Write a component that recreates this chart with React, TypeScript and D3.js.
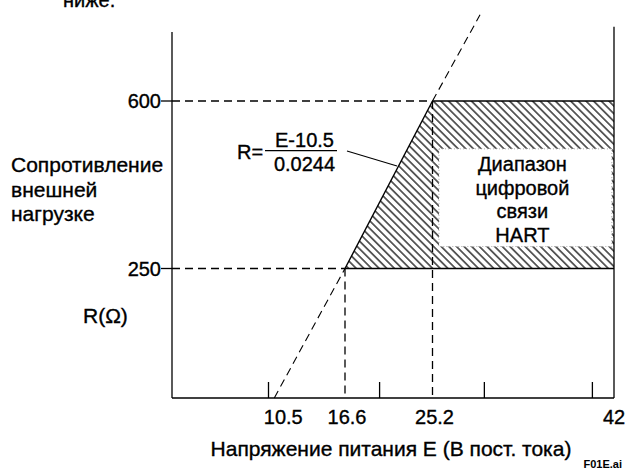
import React, { useRef, useEffect } from "react";
import * as d3 from "d3";

// schematic axis: supply voltage E (V DC) vs load resistance R (ohm)
const eBreaks = [0, 10, 16.6, 25.2, 42];
const rBreaks = [0, 250, 600];
const xTickValues = [10, 20, 30, 40];
const xLabelValues = [10.5, 16.6, 25.2, 42];
const xLabelTexts = ["10.5", "16.6", "25.2", "42"];
const rLabelValues = [250, 600];
const loadLineE = [10.5, 16.6, 25.2, 29.6];
const loadLineR = [0, 250, 600, 780];
const hartRegionE = [16.6, 25.2, 42, 42];
const hartRegionR = [250, 600, 600, 250];
const hartBoxE = [25.8, 41.8];
const hartBoxR = [296, 500];
const hartText = ["Диапазон", "цифровой", "связи", "HART"];
const yTitle = ["Сопротивление", "внешней", "нагрузке"];

const App = () => {
  const svgRef = useRef(null);
  const W = 627;
  const H = 471;

  useEffect(() => {
    const svg = d3.select(svgRef.current);
    svg.selectAll("*").remove();
    const font = "'Liberation Sans', Arial, sans-serif";

    const x = d3.scaleLinear().domain(eBreaks).range([172, 268.5, 345, 432.5, 614]);
    const y = d3.scaleLinear().domain(rBreaks).range([398, 268.5, 101]);

    // hatch pattern
    const pat = svg
      .append("defs")
      .append("pattern")
      .attr("id", "hatch")
      .attr("patternUnits", "userSpaceOnUse")
      .attr("width", 5.4)
      .attr("height", 10)
      .attr("patternTransform", "rotate(-45)");
    pat
      .append("line")
      .attr("x1", 2.7)
      .attr("y1", 0)
      .attr("x2", 2.7)
      .attr("y2", 10)
      .attr("stroke", "#000")
      .attr("stroke-width", 1.2);

    const region = hartRegionE.map((e, i) => [x(e), y(hartRegionR[i])]);
    svg
      .append("path")
      .attr("d", d3.line()(region) + "Z")
      .attr("fill", "url(#hatch)")
      .attr("stroke", "none");

    svg
      .append("rect")
      .attr("x", x(hartBoxE[0]))
      .attr("y", y(hartBoxR[1]))
      .attr("width", x(hartBoxE[1]) - x(hartBoxE[0]))
      .attr("height", y(hartBoxR[0]) - y(hartBoxR[1]))
      .attr("fill", "#fff")
      .attr("stroke", "#999")
      .attr("stroke-width", 0.8)
      .attr("stroke-dasharray", "1 2");

    const seg = (x1, y1, x2, y2, dashed = false, w = 1.3) => {
      const l = svg
        .append("line")
        .attr("x1", x1)
        .attr("y1", y1)
        .attr("x2", x2)
        .attr("y2", y2)
        .attr("stroke", "#000")
        .attr("stroke-width", w);
      if (dashed) l.attr("stroke-dasharray", "8 5");
      return l;
    };

    // dashed guides at 250 / 600
    rLabelValues.forEach((r) => {
      const e = loadLineE[loadLineR.indexOf(r)];
      seg(x(0), y(r), x(e), y(r), true);
      seg(x(e), y(r), x(e), y(0), true);
    });

    // region borders
    seg(x(25.2), y(600), x(42), y(600));
    seg(x(16.6), y(250), x(42), y(250));

    // axes
    seg(x(0), y(744), x(0), y(0));
    seg(x(0), y(0), x(42), y(0));
    seg(x(42), y(755), x(42), y(0));
    xTickValues.forEach((v) => seg(x(v), y(0), x(v), y(0) - 16));
    rLabelValues.forEach((r) => seg(x(0) - 11, y(r), x(0), y(r)));

    // load line
    const pts = loadLineE.map((e, i) => [x(e), y(loadLineR[i])]);
    seg(pts[0][0], pts[0][1], pts[1][0], pts[1][1], true, 1.1);
    seg(pts[1][0], pts[1][1], pts[2][0], pts[2][1], false, 1.4);
    seg(pts[2][0], pts[2][1], pts[3][0], pts[3][1], true, 1.1);

    const txt = (s, tx, ty, anchor = "start", size = 20, weight = "normal") => {
      const t = svg
        .append("text")
        .attr("x", tx)
        .attr("y", ty)
        .attr("text-anchor", anchor)
        .attr("font-family", font)
        .attr("font-size", size)
        .attr("font-weight", weight)
        .attr("fill", "#000")
        .text(s);
      // the scan looks a touch heavier than plain regular
      if (weight === "normal") t.attr("stroke", "#000").attr("stroke-width", 0.35);
      return t;
    };

    // tick labels
    xLabelValues.forEach((v, i) => {
      const shift = v === 10.5 ? 9 : v === 42 ? 0 : 2;
      txt(xLabelTexts[i], x(v) + shift, 424, "middle");
    });
    rLabelValues.forEach((r) => txt(String(r), x(0) - 11, y(r) + 7, "end"));

    // formula
    txt("R=", 237, 159);
    txt("E-10.5", 304.5, 146.7, "middle");
    txt("0.0244", 304.5, 170.7, "middle");
    seg(265, 150.7, 337, 150.7, false, 1.2);
    seg(347, 151, 397, 166, false, 1.2);

    // region text
    const cx = (x(hartBoxE[0]) + x(hartBoxE[1])) / 2 - 3;
    hartText.forEach((s, i) => txt(s, cx, 171 + i * 23.6, "middle"));

    // axis titles
    yTitle.forEach((s, i) => txt(s, 11, 172 + i * 24.5, "start", 21));
    txt("R(Ω)", 83, 323, "start", 21);
    txt("Напряжение питания E (В пост. тока)", 391, 456, "middle", 21);
    txt("F01E.ai", 622, 468, "end", 11, "bold");
    txt("ниже.", 63, 7);
  }, []);

  return (
    <svg
      ref={svgRef}
      width={W}
      height={H}
      viewBox={`0 0 ${W} ${H}`}
      style={{ position: "absolute", left: 0, top: 0, background: "#fff" }}
    ></svg>
  );
};

export default App;
